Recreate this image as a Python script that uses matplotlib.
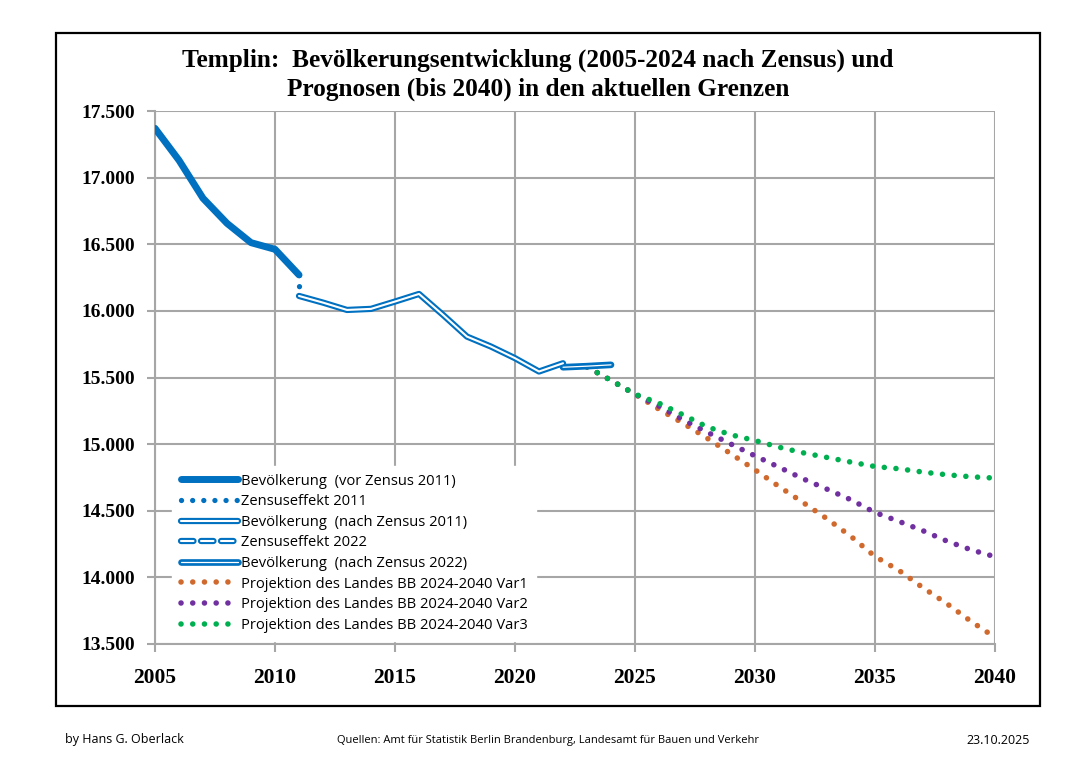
import matplotlib
matplotlib.use('Agg')
import matplotlib.pyplot as plt
from matplotlib.lines import Line2D
from matplotlib.patches import Rectangle
import matplotlib.patheffects as pe

# Daten
jahre_vor = [2005, 2006, 2007, 2008, 2009, 2010, 2011]
bev_vor = [17370, 17130, 16845, 16657, 16512, 16462, 16270]

zensus11_x = [2011, 2011]
zensus11_y = [16270, 16112]

jahre_nach11 = [2011, 2012, 2013, 2014, 2015, 2016, 2017, 2018, 2019, 2020, 2021, 2022]
bev_nach11 = [16112, 16062, 16007, 16015, 16070, 16127, 15970, 15807, 15732, 15645, 15545, 15607]

zensus22_x = [2022, 2022]
zensus22_y = [15607, 15577]

jahre_nach22 = [2022, 2023, 2024]
bev_nach22 = [15577, 15585, 15595]

jahre_proj = list(range(2023, 2041))
var1 = [15580, 15478, 15375, 15262, 15157, 15045, 14927, 14807, 14682, 14562,
        14440, 14307, 14157, 14052, 13922, 13802, 13670, 13550]
var2 = [15580, 15478, 15375, 15285, 15183, 15090, 15000, 14912, 14827, 14740,
        14662, 14582, 14487, 14420, 14350, 14272, 14207, 14155]
var3 = [15580, 15478, 15375, 15307, 15220, 15130, 15070, 15027, 14977, 14935,
        14900, 14865, 14832, 14815, 14790, 14770, 14755, 14745]

yticks = [13500, 14000, 14500, 15000, 15500, 16000, 16500, 17000, 17500]
xticks = [2005, 2010, 2015, 2020, 2025, 2030, 2035, 2040]

blau = '#0070C0'
orange = '#D0692E'
lila = '#7030A0'
gruen = '#00B050'
grau = '#A6A6A6'

W, H = 1081, 760
fig = plt.figure(figsize=(W / 100, H / 100), dpi=100)
fig.patch.set_facecolor('white')
ax = fig.add_axes([155 / W, 1 - 644 / H, 840 / W, 533 / H])
ax.set_xlim(2005, 2040)
ax.set_ylim(13500, 17500)

# Rahmen
fig.add_artist(Rectangle((56 / W, 1 - 706 / H), 984 / W, 673 / H, transform=fig.transFigure,
                         fill=False, edgecolor='black', linewidth=1.6))

ax.set_xticks(xticks)
ax.set_yticks(yticks)
ax.set_xticklabels([str(x) for x in xticks])
ax.set_yticklabels([f'{y:,}'.replace(',', '.') for y in yticks])
ax.grid(True, color=grau, linewidth=1.5)
ax.set_axisbelow(True)
for s in ['top', 'right']:
    ax.spines[s].set_visible(False)
for s in ['left', 'bottom']:
    ax.spines[s].set_color(grau)
    ax.spines[s].set_linewidth(1.5)
ax.tick_params(axis='both', length=6, width=1.5, color=grau, pad=8)
ax.tick_params(axis='x', pad=11, labelsize=15.5)
ax.tick_params(axis='y', labelsize=14)
for lab in ax.get_xticklabels() + ax.get_yticklabels():
    lab.set_fontfamily('Liberation Serif')
    lab.set_fontweight('bold')

dot = (0, (0.01, 2.1))

# Bevölkerung vor Zensus
ax.plot(jahre_vor, bev_vor, color=blau, lw=5, solid_capstyle='round', solid_joinstyle='round', zorder=5)
# Zensuseffekt 2011
ax.plot(zensus11_x, zensus11_y, color=blau, lw=3.8, linestyle=dot, dash_capstyle='round', zorder=5)
# nach Zensus 2011 (Doppellinie)
ax.plot(jahre_nach11, bev_nach11, color=blau, lw=4.5, solid_capstyle='round', solid_joinstyle='round', zorder=5)
ax.plot(jahre_nach11, bev_nach11, color='white', lw=1.5, solid_capstyle='round', solid_joinstyle='round', zorder=6)
# Zensuseffekt 2022
ax.plot(zensus22_x, zensus22_y, color=blau, lw=4.5, linestyle=(0, (2, 1)), zorder=5)
# nach Zensus 2022
ax.plot(jahre_nach22, bev_nach22, color=blau, lw=4.8, solid_capstyle='round', solid_joinstyle='round', zorder=5)
ax.plot(jahre_nach22, bev_nach22, color='white', lw=0.9, solid_capstyle='round', zorder=6)

# Projektionen
for werte, farbe in [(var1, orange), (var2, lila), (var3, gruen)]:
    ax.plot(jahre_proj, werte, color=farbe, lw=4, linestyle=dot, dash_capstyle='round', zorder=4)

# Legende
h_vor = Line2D([], [], color=blau, lw=5, solid_capstyle='round')
h_z11 = Line2D([], [], color=blau, lw=3.8, linestyle=dot, dash_capstyle='round')
h_n11 = Line2D([], [], color=blau, lw=4.5, solid_capstyle='round',
               path_effects=[pe.Stroke(linewidth=4.5, foreground=blau), pe.Stroke(linewidth=1.5, foreground='white')])
h_z22 = Line2D([], [], color=blau, lw=4.5, linestyle=(0, (2.0, 1.2)), dash_capstyle='round',
               path_effects=[pe.Stroke(linewidth=4.5, foreground=blau), pe.Stroke(linewidth=1.5, foreground='white')])
h_n22 = Line2D([], [], color=blau, lw=4.8, solid_capstyle='round',
               path_effects=[pe.Stroke(linewidth=4.8, foreground=blau), pe.Stroke(linewidth=0.9, foreground='white')])
h_v1 = Line2D([], [], color=orange, lw=4, linestyle=dot, dash_capstyle='round')
h_v2 = Line2D([], [], color=lila, lw=4, linestyle=dot, dash_capstyle='round')
h_v3 = Line2D([], [], color=gruen, lw=4, linestyle=dot, dash_capstyle='round')
labels = ['Bevölkerung  (vor Zensus 2011)', 'Zensuseffekt 2011', 'Bevölkerung  (nach Zensus 2011)',
          'Zensuseffekt 2022', 'Bevölkerung  (nach Zensus 2022)',
          'Projektion des Landes BB 2024-2040 Var1', 'Projektion des Landes BB 2024-2040 Var2',
          'Projektion des Landes BB 2024-2040 Var3']
leg = ax.legend([h_vor, h_z11, h_n11, h_z22, h_n22, h_v1, h_v2, h_v3], labels,
                loc='lower left', bbox_to_anchor=(0.012, -0.008), frameon=True, fancybox=False,
                edgecolor='white', facecolor='white', framealpha=1,
                prop={'family': 'Open Sans', 'size': 10.6}, handlelength=3.9, handletextpad=0.2,
                labelspacing=0.38, borderpad=0.55)
leg.set_zorder(10)

# Titel
fig.text(538 / W, 1 - 60 / H, 'Templin:  Bevölkerungsentwicklung (2005-2024 nach Zensus) und',
         ha='center', va='center', fontsize=18.2, fontweight='bold', family='Liberation Serif')
fig.text(538 / W, 1 - 89 / H, 'Prognosen (bis 2040) in den aktuellen Grenzen',
         ha='center', va='center', fontsize=18.2, fontweight='bold', family='Liberation Serif')

# Fußzeile
fig.text(65 / W, 1 - 740 / H, 'by Hans G. Oberlack', ha='left', va='center', fontsize=9, family='Open Sans')
fig.text(548 / W, 1 - 740 / H, 'Quellen: Amt für Statistik Berlin Brandenburg, Landesamt für Bauen und Verkehr',
         ha='center', va='center', fontsize=8, family='Open Sans')
fig.text(1030 / W, 1 - 740 / H, '23.10.2025', ha='right', va='center', fontsize=9, family='Open Sans')

fig.savefig('out.png', dpi=100)
